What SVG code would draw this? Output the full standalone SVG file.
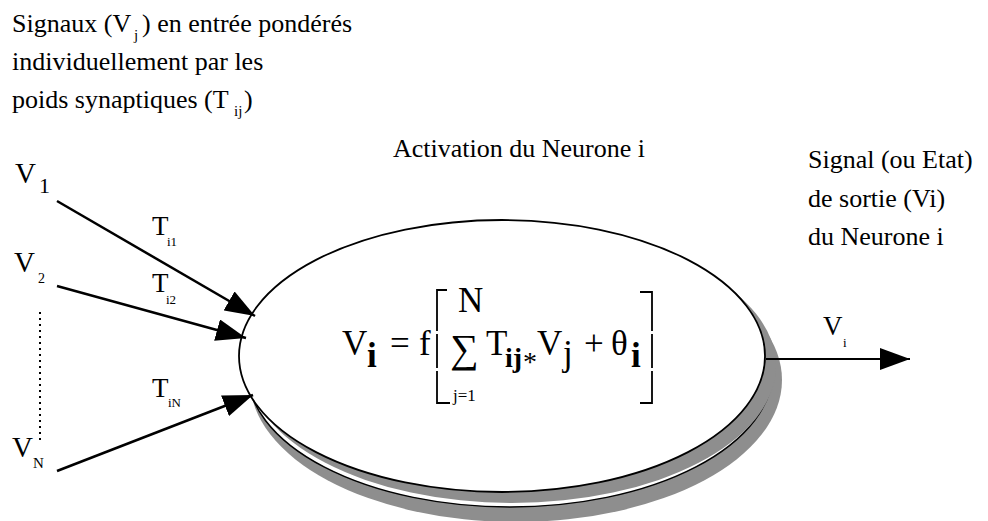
<svg xmlns="http://www.w3.org/2000/svg" width="988" height="521" viewBox="0 0 988 521" font-family="'Liberation Serif', 'Times New Roman', serif">
<style>
text{font-family:"Liberation Serif","Times New Roman",serif;fill:#000}
.t{font-family:"Liberation Serif",serif;font-size:26px}
.sub{font-family:"Liberation Serif",serif;font-size:15px}
.lbl{font-family:"Liberation Serif",serif;font-size:29px}
.w{font-family:"Liberation Serif",serif;font-size:27px}
.f{font-family:"Liberation Serif",serif;font-size:35px}
.b{font-weight:bold}
.ln{stroke:#000;stroke-width:2.5;fill:none}
.gray{fill:#8e8e8e}
</style>
<defs>
<marker id="ah" viewBox="0 0 30 22" refX="30" refY="11" markerWidth="30" markerHeight="22" markerUnits="userSpaceOnUse" orient="auto">
<path d="M0,0 L30,11 L0,22 z" fill="#000"/>
</marker>
</defs>
<rect width="988" height="521" fill="#fff"/>

<g id="caption-inputs">
<text class="t" x="12" y="32">Signaux (V</text>
<text class="sub" x="134" y="40">j</text>
<text class="t" x="142" y="32">) en entrée pondérés</text>
<text class="t" x="12" y="70">individuellement par les</text>
<text class="t" x="12" y="108">poids synaptiques (T</text>
<text class="sub" x="234" y="116">ij</text>
<text class="t" x="244" y="108">)</text>
</g>

<g id="caption-activation">
<text class="t" x="393" y="157">Activation du Neurone i</text>
</g>

<g id="caption-output">
<text class="t" x="808" y="168">Signal (ou Etat)</text>
<text class="t" x="808" y="207">de sortie (Vi)</text>
<text class="t" x="808" y="245">du Neurone i</text>
</g>

<g id="neuron">
<ellipse class="gray" cx="516" cy="380" rx="266" ry="142"/>
<ellipse cx="510" cy="370" rx="263" ry="137" fill="#fff" stroke="#000" stroke-width="1.5"/>
<ellipse class="gray" cx="512" cy="366" rx="264" ry="137"/>
<ellipse cx="502" cy="356" rx="263" ry="136" fill="#fff" stroke="#000" stroke-width="1.8"/>
<text class="f" x="342" y="355">V</text>
<text class="f b" x="367" y="367" font-size="32">i</text>
<text class="f" x="390" y="355">=</text>
<text class="f" x="419" y="355">f</text>
<path d="M447,290 H437 V331 M437,334 V368 M437,371 V403 H450" fill="none" stroke="#000" stroke-width="1.8"/>
<text class="f" x="458" y="312">N</text>
<text x="450" y="362" font-size="40">∑</text>
<text class="f" x="486" y="355">T</text>
<text class="b" x="505" y="367" font-size="28">ij</text>
<text x="523" y="371" font-size="28">*</text>
<text class="f" x="537" y="355">V</text>
<text class="f" x="563" y="365" font-size="32">j</text>
<text class="f" x="584" y="355">+</text>
<text class="f" x="611" y="355">θ</text>
<text class="f b" x="631" y="367" font-size="32">i</text>
<path d="M640,292 H652 V331 M652,334 V368 M652,371 V403 H640" fill="none" stroke="#000" stroke-width="1.8"/>
<text x="453" y="401" font-size="17">j=1</text>
</g>

<g id="input-V1">
<text class="lbl" x="15" y="183">V</text>
<text x="39" y="193" font-size="22">1</text>
</g>
<g id="input-V2">
<text class="lbl" x="14" y="272">V</text>
<text x="38" y="283" font-size="14">2</text>
</g>
<g id="input-VN">
<text class="lbl" x="12" y="457">V</text>
<text x="33" y="468" font-size="15">N</text>
</g>

<g id="connectors">
<path class="ln" d="M57,201 L255,316" marker-end="url(#ah)"/>
<path class="ln" d="M57,286 L246,338" marker-end="url(#ah)"/>
<path class="ln" d="M57,471 L253,395" marker-end="url(#ah)"/>
<path d="M766,359 L910,359" stroke="#000" stroke-width="2" marker-end="url(#ah)"/>
<path d="M40,312 L40,443" stroke="#000" stroke-width="2" stroke-dasharray="2,4"/>
</g>

<g id="weights">
<text class="w" x="152" y="235">T</text>
<text x="167" y="246" font-size="13">i1</text>
<text class="w" x="152" y="292">T</text>
<text x="166" y="304" font-size="13">i2</text>
<text class="w" x="152" y="397">T</text>
<text x="168" y="407" font-size="13">iN</text>
<text class="w" x="823" y="335">V</text>
<text x="843" y="347" font-size="13">i</text>
</g>
</svg>
